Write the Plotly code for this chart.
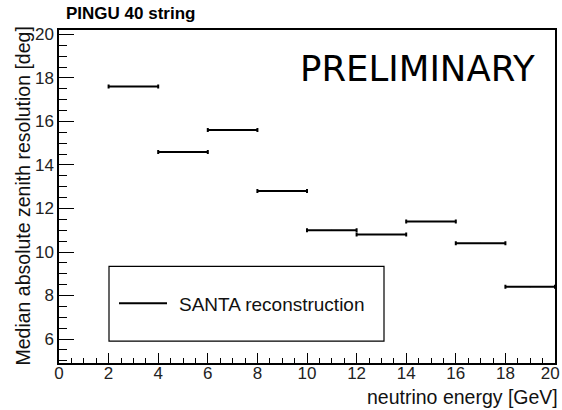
import plotly.graph_objects as go

bin_lo = [2, 4, 6, 8, 10, 12, 14, 16, 18]
bin_hi = [4, 6, 8, 10, 12, 14, 16, 18, 20]
resolution = [17.6, 14.6, 15.6, 12.8, 11.0, 10.8, 11.4, 10.4, 8.4]

x_tick_vals = [0, 2, 4, 6, 8, 10, 12, 14, 16, 18, 20]
x_tick_text = ["0", "2", "4", "6", "8", "10", "12", "14", "16", "18", "20\u00a0\u00a0"]

centers = [(a + b) / 2 for a, b in zip(bin_lo, bin_hi)]
half = [(b - a) / 2 for a, b in zip(bin_lo, bin_hi)]

FONT = "Liberation Sans, Arial, sans-serif"

fig = go.Figure()
fig.add_trace(go.Scatter(
    x=centers, y=resolution, mode="markers",
    marker=dict(size=1, color="black"),
    error_x=dict(type="data", array=half, visible=True, color="black",
                 thickness=2, width=2),
    showlegend=False, hoverinfo="skip",
))

fig.update_layout(
    width=562, height=410,
    margin=dict(l=59, r=7, t=30, b=47),
    paper_bgcolor="white", plot_bgcolor="white",
    font=dict(family=FONT, size=17, color="black"),
    showlegend=False,
)
fig.update_xaxes(
    range=[0, 20], tickmode="array", tickvals=x_tick_vals, ticktext=x_tick_text,
    ticks="inside", ticklen=10,
    tickwidth=1, tickcolor="black",
    minor=dict(ticks="inside", ticklen=5, dtick=0.5, tickcolor="black"),
    showgrid=False, zeroline=False,
    showline=True, linecolor="black", linewidth=1.5, mirror=True,
    tickfont=dict(size=17, family=FONT, color="#222"),
    ticklabelstandoff=-6, ticklabeloverflow="allow", automargin=False,
)
fig.update_yaxes(
    range=[4.9, 20.2], dtick=2, tick0=0, ticks="inside", ticklen=15,
    tickwidth=1, tickcolor="black",
    minor=dict(ticks="inside", ticklen=8, dtick=0.5, tickcolor="black"),
    showgrid=False, zeroline=False,
    showline=True, linecolor="black", linewidth=1.5, mirror=True,
    tickfont=dict(size=17, family=FONT, color="#222"),
    ticklabelstandoff=0, automargin=False,
)

# axis titles
fig.add_annotation(text="neutrino energy [GeV]", xref="paper", yref="paper",
                   x=1.0, y=0, xanchor="right", yanchor="top", yshift=-21,
                   xshift=5,
                   showarrow=False, font=dict(size=19.5, family=FONT, color="#111"))
fig.add_annotation(text="Median absolute zenith resolution [deg]", xref="paper", yref="paper",
                   x=0, y=0.5, xanchor="center", yanchor="middle", xshift=-37,
                   textangle=-90, showarrow=False,
                   font=dict(size=19.5, family=FONT, color="#111"))
# title
fig.add_annotation(text="<b>PINGU 40 string</b>", xref="paper", yref="paper",
                   x=0, y=1, xanchor="left", yanchor="bottom", xshift=5, yshift=5,
                   showarrow=False, font=dict(size=17, family=FONT, color="black"))
# PRELIMINARY
fig.add_annotation(text="PRELIMINARY", xref="paper", yref="paper",
                   x=0.963, y=0.885, xanchor="right", yanchor="middle",
                   showarrow=False, font=dict(size=35.5, family="DejaVu Sans", color="black"))

# legend box
fig.add_shape(type="rect", xref="paper", yref="paper",
              x0=(109 - 59) / 496, x1=(384 - 59) / 496,
              y0=(363 - 341) / 334, y1=(363 - 266) / 334,
              line=dict(color="black", width=1.2), fillcolor="white", layer="below")
fig.add_shape(type="line", xref="paper", yref="paper",
              x0=(119 - 59) / 496, x1=(167 - 59) / 496,
              y0=(363 - 303) / 334, y1=(363 - 303) / 334,
              line=dict(color="black", width=2))
fig.add_annotation(text="SANTA reconstruction", xref="paper", yref="paper",
                   x=(177 - 59) / 496, y=(363 - 304) / 334, xanchor="left", yanchor="middle",
                   showarrow=False, font=dict(size=19, family=FONT, color="#111"))

fig.write_html("out.html", config={"displayModeBar": False},
               post_script="document.body.style.margin='0';document.body.style.padding='0';")
